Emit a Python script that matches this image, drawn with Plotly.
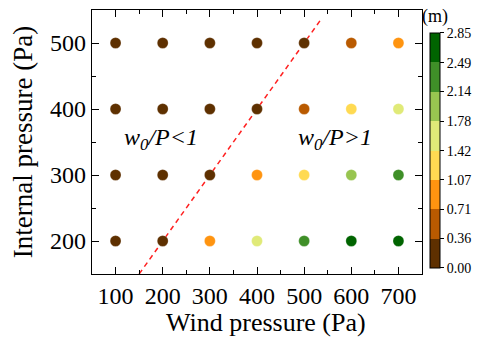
import plotly.graph_objects as go

wind = [100, 200, 300, 400, 500, 600, 700]
internal = [200, 300, 400, 500]
# deformation (m), rows = internal pressure, columns = wind pressure
vals_200 = [0.18, 0.18, 0.89, 1.60, 2.31, 2.67, 2.67]
vals_300 = [0.18, 0.18, 0.18, 0.89, 1.25, 1.96, 2.31]
vals_400 = [0.18, 0.18, 0.18, 0.18, 0.53, 1.25, 1.60]
vals_500 = [0.18, 0.18, 0.18, 0.18, 0.18, 0.53, 0.89]
cb_ticks = [0.00, 0.36, 0.71, 1.07, 1.42, 1.78, 2.14, 2.49, 2.85]
level_colors = ["#5e3000", "#b95a00", "#ff9410", "#ffda52",
                "#e0ea78", "#98c550", "#3f8f28", "#006400"]
line_x = [150, 535]

xs, ys, cs = [], [], []
for p, row in zip(internal, [vals_200, vals_300, vals_400, vals_500]):
    for w, v in zip(wind, row):
        xs.append(w); ys.append(p); cs.append(v)

n = len(level_colors)
cscale = []
for i, c in enumerate(level_colors):
    cscale.append([i / n, c])
    cscale.append([(i + 1) / n, c])

font = "Liberation Serif, Times New Roman, serif"
fig = go.Figure()
fig.add_trace(go.Scatter(x=line_x, y=line_x, mode="lines",
                         line=dict(color="#ff2020", width=1.5, dash="5px,4px"),
                         showlegend=False, hoverinfo="skip"))
fig.add_trace(go.Scatter(
    x=xs, y=ys, mode="markers", showlegend=False,
    marker=dict(size=11, color=cs, colorscale=cscale, cmin=0, cmax=2.85,
                line=dict(color="rgba(255,255,255,0.5)", width=0.5),
                colorbar=dict(tickvals=cb_ticks,
                              ticktext=[f"{t:.2f}" for t in cb_ticks],
                              thickness=10, len=235, lenmode="pixels",
                              x=1.024, xanchor="left", xpad=0,
                              y=0.468, yanchor="middle", ypad=0,
                              outlinecolor="black", outlinewidth=1,
                              ticks="outside", ticklen=4, tickcolor="black",
                              tickfont=dict(family=font, size=14, color="black")))))

axis_common = dict(showgrid=False, zeroline=False, showline=True, linecolor="black",
                   linewidth=1.2, mirror="allticks", ticks="inside", ticklen=7,
                   tickcolor="black",
                   tickfont=dict(family=font, size=24, color="black"),
                   minor=dict(ticks="inside", ticklen=4, tickcolor="black"))
fig.update_xaxes(range=[50, 750], tickvals=wind, minor_dtick=50, **axis_common)
fig.update_yaxes(range=[150, 550], tickvals=internal, minor_dtick=50,
                 title=dict(text="Internal pressure (Pa)", font=dict(family=font, size=27, color="black"), standoff=9),
                 **axis_common)

fig.add_annotation(xref="paper", yref="paper", x=0.527, y=-0.122, xanchor="center", yanchor="top",
                   text="Wind pressure (Pa)", showarrow=False,
                   font=dict(family=font, size=26, color="black"))
fig.add_annotation(x=196, y=355, text="<i>w</i><sub><i>0</i></sub><i>/P&lt;1</i>", showarrow=False,
                   font=dict(family=font, size=24, color="black"))
fig.add_annotation(x=565, y=355, text="<i>w</i><sub><i>0</i></sub><i>/P&gt;1</i>", showarrow=False,
                   font=dict(family=font, size=24, color="black"))
fig.add_annotation(xref="paper", yref="paper", x=1.04, y=0.975, xanchor="center", yanchor="middle",
                   text="(m)", showarrow=False,
                   font=dict(family=font, size=18, color="black"))

fig.update_layout(width=482, height=340, margin=dict(l=92, r=56, t=10, b=66),
                  plot_bgcolor="white", paper_bgcolor="white")
fig.write_html("out.html")
